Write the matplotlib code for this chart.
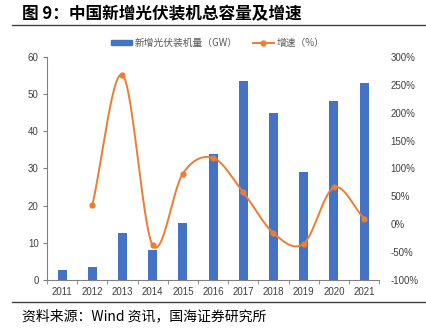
import numpy as np
import matplotlib.pyplot as plt
from matplotlib.lines import Line2D
from matplotlib.patches import Patch

plt.rcParams['font.family'] = ['Liberation Sans', 'Noto Sans CJK SC', 'DejaVu Sans']

years = ['2011', '2012', '2013', '2014', '2015', '2016', '2017', '2018', '2019', '2020', '2021']
capacity_gw = [2.7, 3.5, 12.7, 8.1, 15.4, 33.9, 53.6, 45.0, 29.0, 48.1, 53.0]
# growth rate starts in 2012
growth_pct = [34, 268, -38, 91, 119, 57, -16, -35, 66, 10]

blue = '#4472C4'
orange = '#ED7D31'
axis_grey = '#808080'
tick_grey = '#404040'


def smooth_curve(x, y, steps=30):
    # Catmull-Rom spline through the points, like a spreadsheet "smoothed line"
    x = np.asarray(x, float)
    y = np.asarray(y, float)
    px = np.concatenate([[2 * x[0] - x[1]], x, [2 * x[-1] - x[-2]]])
    py = np.concatenate([[2 * y[0] - y[1]], y, [2 * y[-1] - y[-2]]])
    xs, ys = [], []
    t = np.linspace(0, 1, steps)
    for i in range(1, len(px) - 2):
        for p, out in ((px, xs), (py, ys)):
            p0, p1, p2, p3 = p[i - 1], p[i], p[i + 1], p[i + 2]
            seg = 0.5 * (2 * p1 + (-p0 + p2) * t
                         + (2 * p0 - 5 * p1 + 4 * p2 - p3) * t ** 2
                         + (-p0 + 3 * p1 - 3 * p2 + p3) * t ** 3)
            out.extend(seg)
    return np.array(xs), np.array(ys)


fig = plt.figure(figsize=(4.27, 3.32), dpi=100)
ax = fig.add_axes([0.110, 0.157, 0.778, 0.671])
ax2 = ax.twinx()

x = np.arange(len(years))
ax.bar(x, capacity_gw, width=0.3, color=blue, zorder=2)
ax.set_xlim(-0.5, len(years) - 0.5)
ax.set_ylim(0, 60)
ax.set_yticks(range(0, 61, 10))
ax.set_xticks(x)
ax.set_xticklabels(years)
ax.set_xticks(np.arange(-0.5, len(years), 1), minor=True)
ax.tick_params(axis='x', which='major', length=0, pad=5, labelsize=7, labelcolor=tick_grey)
ax.tick_params(axis='x', which='minor', length=3, color=axis_grey, direction='out')
ax.tick_params(axis='y', length=3, color=axis_grey, labelsize=7, labelcolor=tick_grey, pad=3)

gx = x[1:]
sx, sy = smooth_curve(gx, growth_pct)
ax2.plot(sx, sy, color=orange, lw=1.4, zorder=3)
ax2.plot(gx, growth_pct, 'o', color=orange, ms=3.5, zorder=4)
ax2.set_ylim(-100, 300)
ax2.set_yticks(range(-100, 301, 50))
ax2.set_yticklabels([f'{v}%' for v in range(-100, 301, 50)])
ax2.tick_params(axis='y', length=0, labelsize=7, labelcolor=tick_grey, pad=8)

for a in (ax, ax2):
    for side in ('top', 'right'):
        a.spines[side].set_visible(False)
    a.spines['left'].set_color(axis_grey)
    a.spines['bottom'].set_color(axis_grey)
ax2.spines['left'].set_visible(False)
ax2.spines['bottom'].set_visible(False)

handles = [Patch(color=blue),
           Line2D([], [], color=orange, lw=1.4, marker='o', ms=3.5)]
fig.legend(handles, ['新增光伏装机量（GW）', '增速（%）'], loc='center',
           bbox_to_anchor=(0.51, 0.870), ncol=2, frameon=False,
           prop={'family': ['Noto Sans CJK SC'], 'size': 7},
           labelcolor='#595959', handlelength=2.2, handleheight=0.5,
           columnspacing=1.5, handletextpad=0.3)

fig.text(0.052, 0.958, '图 9：中国新增光伏装机总容量及增速', fontsize=12,
         fontweight='bold', va='center', family=['Noto Sans CJK SC'])
fig.add_artist(Line2D([0.028, 1.0], [0.925, 0.925], color='#404040', lw=1.0))
fig.add_artist(Line2D([0.028, 1.0], [0.090, 0.090], color='#404040', lw=1.0))
fig.text(0.052, 0.046, '资料来源：Wind 资讯，国海证券研究所', fontsize=10,
         va='center', family=['Noto Sans CJK SC'])

fig.savefig('out.png', dpi=100)
